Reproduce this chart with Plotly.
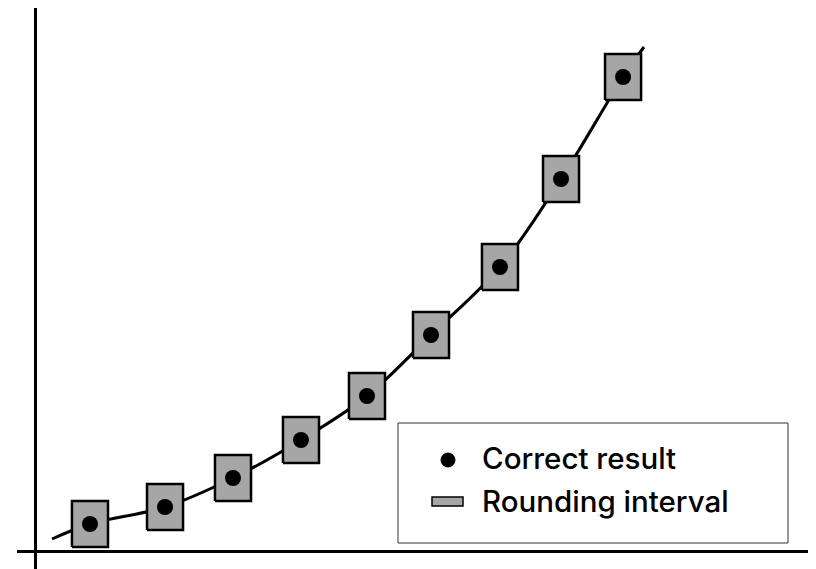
import plotly.graph_objects as go

# ---- data (arbitrary units) ----
x_points = [0.833, 1.970, 3.0, 4.03, 5.03, 6.0, 7.045, 7.97, 8.91]
y_points = [0.54, 0.88, 1.46, 2.22, 3.10, 4.32, 5.68, 7.44, 9.48]
curve_start = (0.258, 0.24)
curve_end = (9.227, 10.08)
interval_halfwidth = 0.273   # half width of rounding interval box (x units)
interval_halfheight = 0.46   # half height of rounding interval box (y units)
legend_labels = ["Correct result", "Rounding interval"]

W, H = 816, 569
OFF = 8  # page body margin offset
# plot area in page pixels: x 17..810, y 7..569
L, T = 17 - OFF, 0
R = W - (810 - OFF)
B = H - (569 - OFF)
GRAY = "#a6a6a6"
FONT = "Inter, Liberation Sans, Arial, sans-serif"

# curve through the points
cx = [curve_start[0]] + x_points + [curve_end[0]]
cy = [curve_start[1]] + y_points + [curve_end[1]]

# rounding-interval rectangles as closed polygons
bx, by = [], []
for x, y in zip(x_points, y_points):
    x0, x1 = x - interval_halfwidth, x + interval_halfwidth
    y0, y1 = y - interval_halfheight, y + interval_halfheight
    bx += [x0, x1, x1, x0, x0, None]
    by += [y0, y0, y1, y1, y0, None]

fig = go.Figure()
fig.add_trace(go.Scatter(x=cx, y=cy, mode="lines",
                         line=dict(color="black", width=3, shape="spline", smoothing=1.0),
                         showlegend=False, hoverinfo="skip"))
fig.add_trace(go.Scatter(x=bx, y=by, mode="lines", fill="toself", fillcolor=GRAY,
                         line=dict(color="black", width=2.5),
                         showlegend=False, hoverinfo="skip"))
fig.add_trace(go.Scatter(x=x_points, y=y_points, mode="markers",
                         marker=dict(color="black", size=16, symbol="circle"),
                         showlegend=False))

pw, ph = W - L - R, H - T - B
def px(xp):  # page pixel -> paper
    return (xp - OFF - L) / pw
def py(yp):
    return (H - B - (yp - OFF)) / ph

shapes = []
shapes.append(dict(type="rect", xref="paper", yref="paper",
                   x0=px(398), x1=px(788), y0=py(543), y1=py(423),
                   line=dict(color="#333333", width=1), fillcolor="white", layer="above"))
shapes.append(dict(type="circle", xref="paper", yref="paper",
                   x0=px(441), x1=px(455), y0=py(467), y1=py(453),
                   line=dict(color="black", width=1), fillcolor="black", layer="above"))
shapes.append(dict(type="rect", xref="paper", yref="paper",
                   x0=px(432), x1=px(463), y0=py(506), y1=py(497),
                   line=dict(color="black", width=1.5), fillcolor=GRAY, layer="above"))

annotations = []
for label, ypix in zip(legend_labels, [458, 501]):
    annotations.append(dict(text=label, xref="paper", yref="paper",
                            x=px(480), y=py(ypix), xanchor="left", yanchor="middle",
                            showarrow=False,
                            font=dict(family=FONT, size=29.5, color="black", weight=500)))

# data ranges: origin at page pixel (35, 551); 66 px per x unit, 50 px per y unit
x_range = [-(35 - 17) / 66.0, (810 - 35) / 66.0]
y_range = [-(569 - 551) / 50.0, (551 - (T + OFF)) / 50.0]

fig.update_layout(
    width=W, height=H,
    margin=dict(l=L, r=R, t=T, b=B, pad=0),
    paper_bgcolor="white", plot_bgcolor="white",
    xaxis=dict(range=x_range, showgrid=False, showticklabels=False, ticks="",
               zeroline=True, zerolinecolor="black", zerolinewidth=2.5, showline=False, fixedrange=True),
    yaxis=dict(range=y_range, showgrid=False, showticklabels=False, ticks="",
               zeroline=True, zerolinecolor="black", zerolinewidth=2.5, showline=False, fixedrange=True),
    shapes=shapes, annotations=annotations, showlegend=False,
)

fig.write_html("out.html", config={"displayModeBar": False})
